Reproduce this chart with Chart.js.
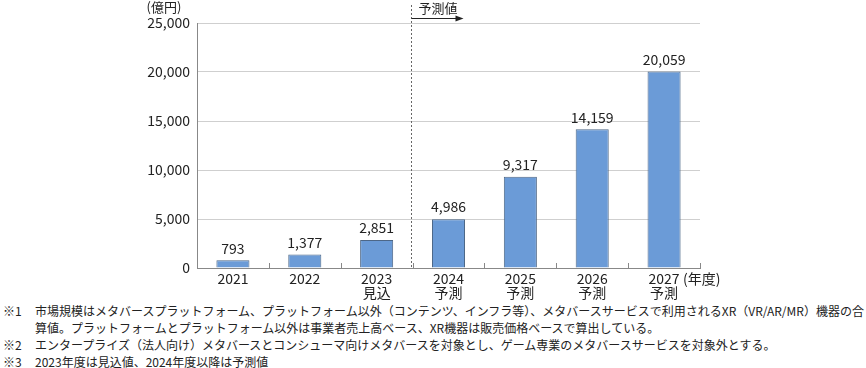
<!DOCTYPE html>
<html>
<head>
<meta charset="utf-8">
<script src="https://cdn.jsdelivr.net/npm/chart.js@4/dist/chart.umd.min.js"></script>
<style>
  html, body { margin: 0; padding: 0; background: #fff; }
  #wrap { position: relative; width: 866px; height: 368px; overflow: hidden; }
  #c { position: absolute; left: 0; top: 0; }
  .fn { position: absolute; left: 0; font-family: "Noto Sans CJK JP", sans-serif; font-size: 12px; color: #222; white-space: nowrap; line-height: 14px; }
  .fn .m { position: absolute; left: 3px; }
  .fn .t { position: absolute; left: 35px; }
</style>
</head>
<body>
<div id="wrap">
  <canvas id="c" width="866" height="302"></canvas>
  <div class="fn" style="top:304px"><span class="m">※1</span><span class="t">市場規模はメタバースプラットフォーム、プラットフォーム以外（コンテンツ、インフラ等）、メタバースサービスで利用されるXR（VR/AR/MR）機器の合</span></div>
  <div class="fn" style="top:321px"><span class="t">算値。プラットフォームとプラットフォーム以外は事業者売上高ベース、XR機器は販売価格ベースで算出している。</span></div>
  <div class="fn" style="top:338px"><span class="m">※2</span><span class="t">エンタープライズ（法人向け）メタバースとコンシューマ向けメタバースを対象とし、ゲーム専業のメタバースサービスを対象外とする。</span></div>
  <div class="fn" style="top:355px"><span class="m">※3</span><span class="t">2023年度は見込値、2024年度以降は予測値</span></div>
</div>
<script>
const years = ['2021', '2022', '2023', '2024', '2025', '2026', '2027'];
const subLabels = ['', '', '見込', '予測', '予測', '予測', '予測'];
const marketSize = [793, 1377, 2851, 4986, 9317, 14159, 20059];
const yTicks = [0, 5000, 10000, 15000, 20000, 25000];
const unitLabel = '(億円)';
const yearUnit = '(年度)';
const forecastLabel = '予測値';
const forecastStartIndex = 3;

const FONT = '"Noto Sans CJK JP", sans-serif';
const TXT = '#222';

const labels = years.map((y, i) => subLabels[i] ? [y, subLabels[i]] : [y]);

const overlay = {
  id: 'overlay',
  afterDatasetsDraw(chart) {
    const ctx = chart.ctx;
    const x = chart.scales.x, y = chart.scales.y;
    const area = chart.chartArea;
    ctx.save();
    // inward tick marks at category boundaries
    ctx.strokeStyle = '#888';
    ctx.lineWidth = 1;
    for (let i = 0; i <= years.length; i++) {
      const px = Math.round(x.left + (x.right - x.left) * i / years.length) + 0.5;
      ctx.beginPath();
      ctx.moveTo(px, area.bottom);
      ctx.lineTo(px, area.bottom - 5);
      ctx.stroke();
    }
    // value labels
    ctx.fillStyle = TXT;
    ctx.font = '14px ' + FONT;
    ctx.textAlign = 'center';
    ctx.textBaseline = 'middle';
    const meta = chart.getDatasetMeta(0);
    meta.data.forEach((bar, i) => {
      ctx.fillText(marketSize[i].toLocaleString('en-US'), bar.x, bar.y - 12);
    });
    // forecast dashed line
    const dx = Math.round((x.getPixelForValue(forecastStartIndex - 1) + x.getPixelForValue(forecastStartIndex)) / 2) - 1.5;
    ctx.strokeStyle = '#666';
    ctx.setLineDash([2, 2]);
    ctx.beginPath();
    ctx.moveTo(dx, 5);
    ctx.lineTo(dx, area.bottom);
    ctx.stroke();
    ctx.setLineDash([]);
    // arrow
    ctx.strokeStyle = '#222';
    ctx.beginPath();
    ctx.moveTo(dx, 18.5);
    ctx.lineTo(dx + 46, 18.5);
    ctx.stroke();
    ctx.fillStyle = '#222';
    ctx.beginPath();
    ctx.moveTo(dx + 52, 18.5);
    ctx.lineTo(dx + 44, 15.5);
    ctx.lineTo(dx + 44, 21.5);
    ctx.closePath();
    ctx.fill();
    ctx.font = '13px ' + FONT;
    ctx.textAlign = 'left';
    ctx.fillText(forecastLabel, dx + 7, 8);
    // unit label
    ctx.textAlign = 'center';
    ctx.fillText(unitLabel, 164, 7);
    // year unit after last label
    ctx.font = '14px ' + FONT;
    ctx.textAlign = 'left';
    ctx.fillText(yearUnit, x.getPixelForValue(years.length - 1) + 19, 279);
    ctx.restore();
  }
};

new Chart(document.getElementById('c'), {
  type: 'bar',
  data: {
    labels: labels,
    datasets: [{
      data: marketSize,
      backgroundColor: '#6b9bd7',
      borderColor: '#4d6787',
      borderWidth: 1,
      barPercentage: 0.46,
      categoryPercentage: 1.0
    }]
  },
  options: {
    responsive: false,
    animation: false,
    layout: { padding: { left: 0, right: 166, top: 23, bottom: 0 } },
    plugins: { legend: { display: false }, tooltip: { enabled: false } },
    scales: {
      x: {
        grid: { display: false, drawTicks: false, tickLength: 0 },
        border: { display: true, color: '#888', width: 1 },
        ticks: { color: TXT, font: { family: FONT, size: 14, lineHeight: 1 }, padding: 4, maxRotation: 0, autoSkip: false },
        afterFit(s) { s.height = 34; }
      },
      y: {
        min: 0, max: 25000,
        afterBuildTicks(s) { s.ticks = yTicks.map(v => ({ value: v })); },
        grid: { color: '#cfcfcf', drawTicks: false },
        border: { display: true, color: '#888', width: 1 },
        ticks: { color: TXT, font: { family: FONT, size: 14 }, padding: 7,
          callback: v => v.toLocaleString('en-US') },
        afterFit(s) { s.width = 197; }
      }
    }
  },
  plugins: [overlay]
});
</script>
</body>
</html>
